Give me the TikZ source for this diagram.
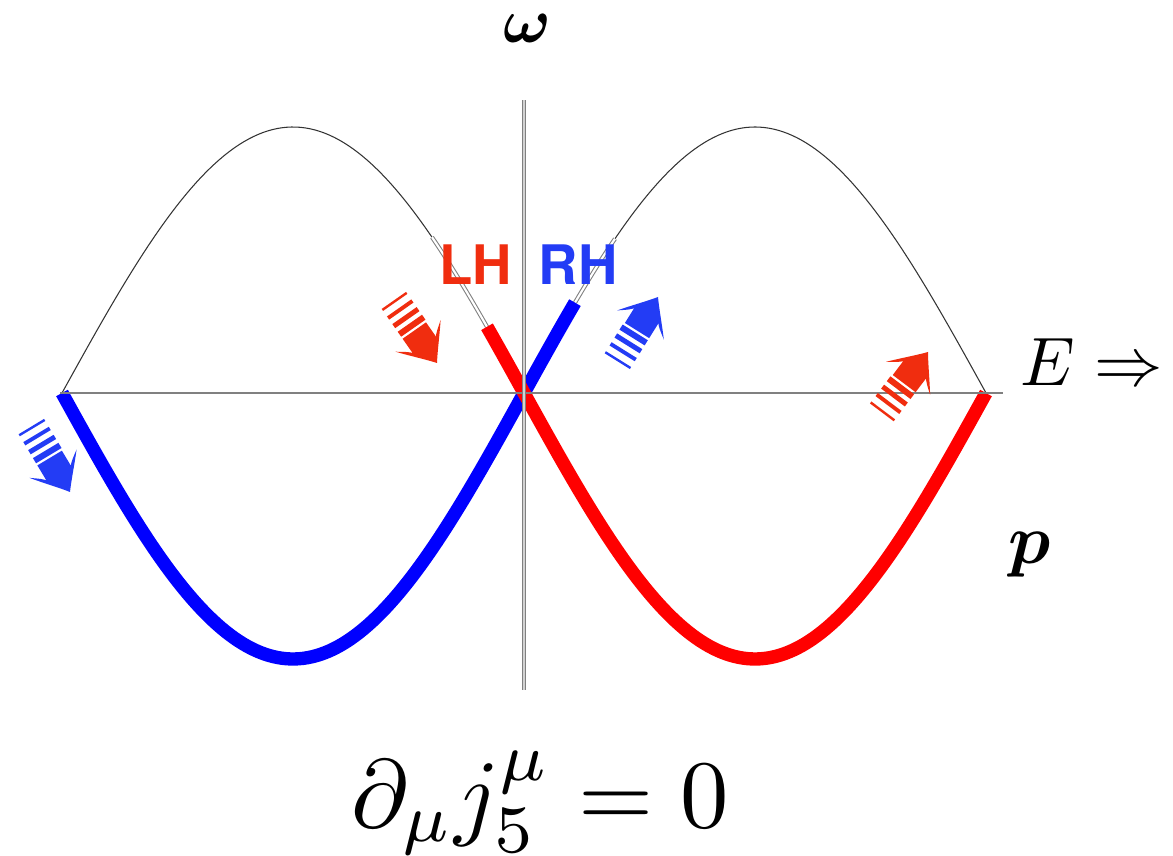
\documentclass[tikz,border=0pt]{standalone}
\usepackage{amsmath,bm,graphicx}
\usepackage{fontspec}
\newfontfamily\heros{TeX Gyre Heros}
\usetikzlibrary{positioning}
\definecolor{lhred}{RGB}{240,45,15}
\definecolor{rhblue}{RGB}{35,60,245}

\tikzset{
  speedarrow/.pic={
    \fill (0,0) .. controls (-0.08,0.06) and (-0.20,0.17) .. (-0.30,0.25)
      .. controls (-0.25,0.18) and (-0.22,0.14) .. (-0.20,0.13)
      -- (-0.36,0.13) -- (-0.36,-0.13) -- (-0.20,-0.13)
      .. controls (-0.22,-0.14) and (-0.25,-0.18) .. (-0.30,-0.25)
      .. controls (-0.20,-0.17) and (-0.08,-0.06) .. cycle;
    \foreach \d/\t in {0.41/0.055,0.50/0.045,0.59/0.035,0.68/0.022}
      \fill ({-\d-\t/2},-0.13) rectangle ({-\d+\t/2},0.14);
  }
}

\begin{document}
\begin{tikzpicture}[
  thincurve/.style={black!80,line width=0.3pt},
  ghost/.style={gray,line width=0.3pt,double=white,double distance=0.6pt},
  band/.style={line width=3.8pt},
  chiral/.style={font=\heros\bfseries\fontsize{15.5}{18}\selectfont},
  flow/.style={scale=1.1}
]
\useasboundingbox (0,0) rectangle (11.73,8.55);
\def\amp{2.66}
% upper (thin) branches
\draw[thincurve] plot[domain=0.62:4.87,samples=90] (\x,{4.62+\amp*sin(180*(\x-0.62)/4.62)});
\draw[thincurve] plot[domain=5.75:9.86,samples=90] (\x,{4.62-\amp*sin(180*(\x-0.62)/4.62)});
\draw[ghost] plot[domain=4.32:4.87,samples=15] (\x,{4.62+\amp*sin(180*(\x-0.62)/4.62)});
\draw[ghost] plot[domain=5.75:6.15,samples=15] (\x,{4.62-\amp*sin(180*(\x-0.62)/4.62)});
% filled (thick) branches
\draw[band,blue] plot[domain=0.62:5.75,samples=120] (\x,{4.62-\amp*sin(180*(\x-0.62)/4.62)});
\draw[band,red] plot[domain=4.87:9.86,samples=120] (\x,{4.62+\amp*sin(180*(\x-0.62)/4.62)});
% axes
\draw[gray,line width=0.5pt] (0.60,4.62) -- (10.03,4.62);
\draw[gray,line width=0.35pt,double=gray!35,double distance=0.6pt] (5.24,1.65) -- (5.24,7.55);
% flow arrows
\pic[flow,color=lhred,rotate=-55] at (4.37,4.92) {speedarrow};
\pic[flow,color=rhblue,rotate=-59] at (0.70,3.63) {speedarrow};
\pic[flow,color=rhblue,rotate=58] at (6.58,5.58) {speedarrow};
\pic[flow,color=lhred,rotate=53] at (9.28,5.03) {speedarrow};
% labels
\node (omega) [inner sep=0pt] at (5.27,8.27) {\scalebox{1.8}{$\bm{\omega}$}};
\node (p) [inner sep=0pt] at (10.30,3.00) {\scalebox{2.0}{$\bm{p}$}};
\node (efield) [inner sep=0pt] at (10.92,4.93) {\scalebox{1.95}{$E\Rightarrow$}};
\node (lh) [chiral,text=lhred] at (4.76,5.90) {LH};
\node (rh) [chiral,text=rhblue] at (5.78,5.90) {RH};
\node (anomaly) [inner sep=0pt,anchor=base] at (5.40,0.28) {\scalebox{2.75}{$\partial_\mu j_5^\mu=0$}};
\end{tikzpicture}
\end{document}
